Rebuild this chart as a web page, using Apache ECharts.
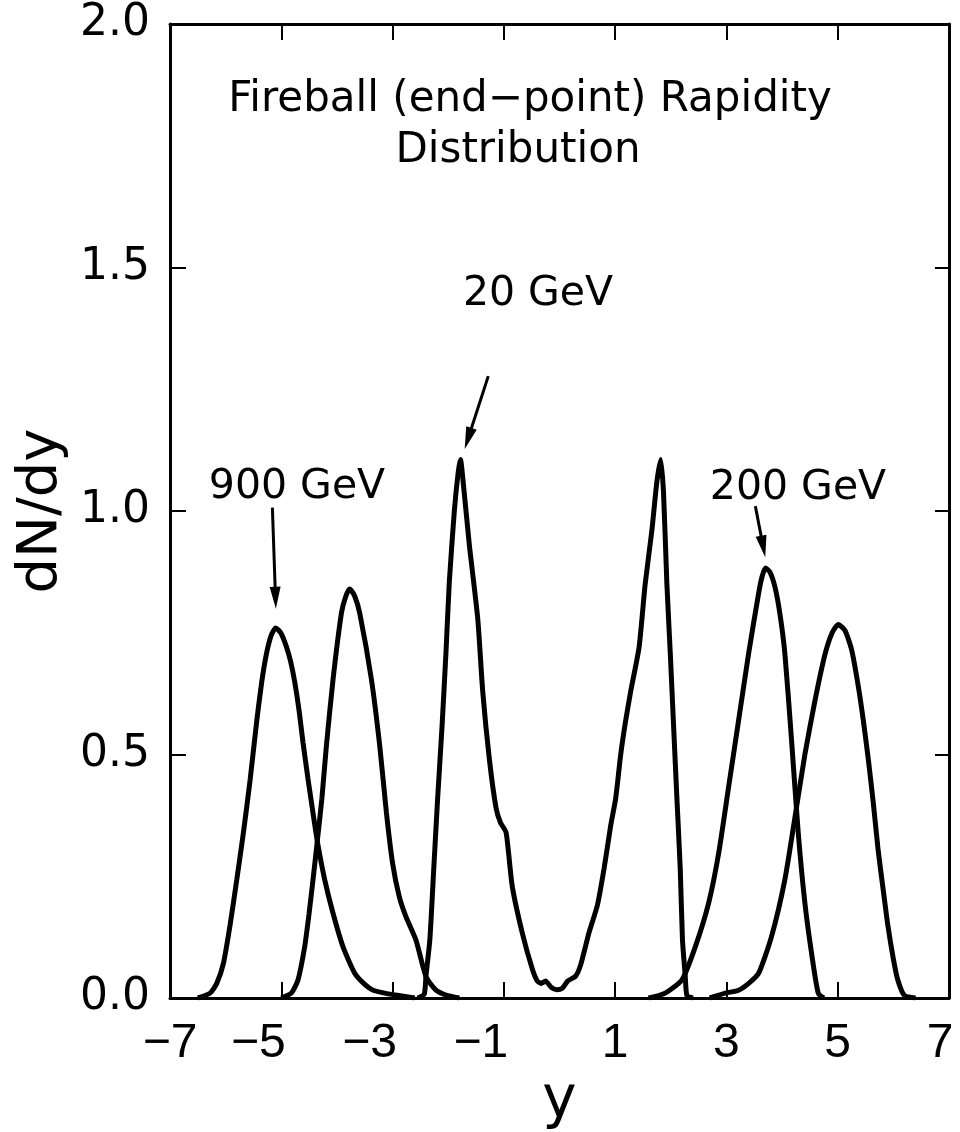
<!DOCTYPE html>
<html>
<head>
<meta charset="utf-8">
<script src="https://cdn.jsdelivr.net/npm/echarts@6/dist/echarts.min.js"></script>
<style>html,body{margin:0;padding:0;background:#fff}#c{width:960px;height:1132px}</style>
</head>
<body>
<div id="c"></div>
<script>
// ---- data (rapidity y, dN/dy) ----
const gev900Left = [[-6.5,0],[-6.28,0.01],[-6.16,0.03],[-6.04,0.071],[-5.92,0.15],[-5.80,0.243],[-5.68,0.34],[-5.56,0.448],[-5.44,0.57],[-5.35,0.65],[-5.27,0.705],[-5.18,0.745],[-5.10,0.76],[-5.01,0.75],[-4.91,0.722],[-4.83,0.69],[-4.76,0.65],[-4.68,0.59],[-4.61,0.525],[-4.52,0.45],[-4.43,0.38],[-4.35,0.32],[-4.22,0.243],[-4.07,0.174],[-3.89,0.105],[-3.68,0.051],[-3.50,0.028],[-3.35,0.016],[-3.10,0.009],[-2.94,0.006],[-2.6,0]];
const gev900Right = [[2.7,0],[2.98,0.01],[3.22,0.016],[3.40,0.03],[3.58,0.051],[3.81,0.126],[4.05,0.243],[4.23,0.37],[4.41,0.50],[4.59,0.61],[4.77,0.705],[4.90,0.75],[5.01,0.767],[5.13,0.755],[5.25,0.715],[5.37,0.64],[5.46,0.57],[5.55,0.49],[5.64,0.40],[5.73,0.30],[5.82,0.22],[5.90,0.15],[6.00,0.08],[6.08,0.037],[6.20,0.005],[6.4,0]];
const gev200Left = [[-5.0,0],[-4.82,0.01],[-4.70,0.037],[-4.58,0.105],[-4.50,0.174],[-4.43,0.243],[-4.35,0.325],[-4.27,0.41],[-4.19,0.517],[-4.07,0.654],[-3.92,0.79],[-3.84,0.825],[-3.77,0.84],[-3.68,0.825],[-3.59,0.79],[-3.38,0.654],[-3.23,0.517],[-3.11,0.38],[-3.0,0.277],[-2.88,0.208],[-2.76,0.167],[-2.58,0.119],[-2.40,0.044],[-2.22,0.016],[-2.04,0.006],[-1.8,0]];
const gev200Right = [[1.6,0],[1.90,0.01],[2.20,0.037],[2.44,0.105],[2.68,0.195],[2.86,0.297],[3.04,0.434],[3.22,0.571],[3.40,0.708],[3.58,0.832],[3.64,0.865],[3.70,0.883],[3.78,0.875],[3.87,0.845],[3.96,0.79],[4.05,0.708],[4.17,0.53],[4.29,0.34],[4.41,0.195],[4.53,0.092],[4.65,0.01],[4.75,0]];
const gev20 = [[-2.55,0],[-2.43,0.008],[-2.40,0.045],[-2.33,0.12],[-2.26,0.265],[-2.19,0.41],[-2.11,0.56],[-2.04,0.71],[-1.98,0.855],[-1.89,1.00],[-1.82,1.08],[-1.78,1.106],[-1.74,1.07],[-1.62,0.93],[-1.47,0.78],[-1.38,0.63],[-1.26,0.49],[-1.14,0.39],[-1.06,0.36],[-0.96,0.34],[-0.85,0.23],[-0.67,0.134],[-0.49,0.06],[-0.40,0.035],[-0.33,0.03],[-0.25,0.035],[-0.15,0.022],[-0.05,0.017],[0.05,0.02],[0.15,0.035],[0.29,0.045],[0.38,0.068],[0.53,0.134],[0.68,0.19],[0.80,0.265],[0.92,0.354],[1.01,0.41],[1.10,0.50],[1.19,0.57],[1.28,0.63],[1.43,0.72],[1.54,0.85],[1.66,0.96],[1.75,1.06],[1.82,1.106],[1.87,1.036],[1.93,0.85],[1.99,0.71],[2.05,0.56],[2.11,0.41],[2.17,0.265],[2.21,0.12],[2.26,0.045],[2.29,0.005],[2.4,0]];

// annotation arrows: [start, end] in data coordinates
const arrow900 = [[-5.16,1.007],[-5.104,0.822]];
const arrow20 = [[-1.28,1.277],[-1.643,1.149]];
const arrow200 = [[3.52,1.01],[3.66,0.927]];

const xRange = [-7, 7];
const yRange = [0, 2];
const titleLines = ['Fireball (end\u2212point) Rapidity', 'Distribution'];
const energyLabels = ['900 GeV', '20 GeV', '200 GeV'];
const xName = 'y';
const yName = 'dN/dy';

const chart = echarts.init(document.getElementById('c'), null, {renderer: 'canvas'});
const FONT = 'DejaVu Sans, sans-serif';
const FONT2 = 'Liberation Sans, Arial, sans-serif';
const axisLineStyle = {color: '#000', width: 3};
const tickStyle = {color: '#000', width: 2};

function arrowLine(a) {
  return [[{coord: a[0], symbol: 'none'}, {coord: a[1], symbol: 'path://M5,0L10,24L0,24Z', symbolSize: [11, 22]}]];
}
function curve(name, data, arrow) {
  const s = {
    name: name, type: 'line', data: data, showSymbol: false, symbol: 'none',
    smooth: 0.2, lineStyle: {color: '#000', width: 5}, silent: true,
    xAxisIndex: 0, yAxisIndex: 0, z: 3
  };
  if (arrow) {
    s.markLine = {
      silent: true, animation: false, symbol: ['none', 'none'],
      lineStyle: {color: '#000', width: 3, type: 'solid'},
      itemStyle: {color: '#000'},
      label: {show: false}, emphasis: {disabled: true},
      data: arrowLine(arrow)
    };
  }
  return s;
}
const lblRich = {fontSize: 48, fontFamily: FONT2, color: '#000'};

const option = {
  animation: false,
  backgroundColor: '#fff',
  grid: {left: 170, right: 11, top: 24, bottom: 134, outerBoundsMode: 'none', containLabel: false},
  xAxis: [{
    type: 'value', min: xRange[0], max: xRange[1], interval: 2, position: 'bottom',
    axisLine: {show: true, onZero: false, lineStyle: axisLineStyle},
    axisTick: {show: true, inside: true, length: 16, lineStyle: tickStyle},
    splitLine: {show: false},
    axisLabel: {
      margin: 22, color: '#000', fontSize: 48, fontFamily: FONT2,
      formatter: v => {
        if (v === xRange[0]) return '{a|\u2212' + Math.abs(v) + '}';
        if (v === xRange[1]) return '{e|' + v + '}';
        return v < 0 ? '{n|\u2212' + Math.abs(v) + '}' : '{p|' + v + '}';
      },
      rich: {
        a: Object.assign({}, lblRich),
        n: Object.assign({padding: [0, 46, 0, 0]}, lblRich),
        p: Object.assign({}, lblRich),
        e: Object.assign({padding: [0, 18, 0, 0]}, lblRich)
      }
    },
    name: xName, nameLocation: 'middle', nameGap: 56,
    nameTextStyle: {fontSize: 58, fontFamily: FONT, color: '#000'}
  }, {
    type: 'value', min: xRange[0], max: xRange[1], interval: 2, position: 'top',
    axisLine: {show: true, onZero: false, lineStyle: axisLineStyle},
    axisTick: {show: true, inside: true, length: 16, lineStyle: tickStyle},
    splitLine: {show: false}, axisLabel: {show: false}
  }],
  yAxis: [{
    type: 'value', min: yRange[0], max: yRange[1], interval: 0.5, position: 'left',
    axisLine: {show: true, onZero: false, lineStyle: axisLineStyle},
    axisTick: {show: true, inside: true, length: 16, lineStyle: tickStyle},
    splitLine: {show: false},
    axisLabel: {margin: 20, color: '#000', fontSize: 44, fontFamily: FONT, formatter: v => v.toFixed(1)},
    name: yName, nameLocation: 'middle', nameGap: 96, nameRotate: 90,
    nameTextStyle: {fontSize: 56, fontFamily: FONT, color: '#000'}
  }, {
    type: 'value', min: yRange[0], max: yRange[1], interval: 0.5, position: 'right',
    axisLine: {show: true, onZero: false, lineStyle: axisLineStyle},
    axisTick: {show: true, inside: true, length: 14, lineStyle: tickStyle},
    splitLine: {show: false}, axisLabel: {show: false}
  }],
  graphic: [
    {type: 'text', x: 530, y: 100, style: {text: titleLines[0], fontSize: 42, fontFamily: FONT, fill: '#000', align: 'center', verticalAlign: 'middle'}},
    {type: 'text', x: 518, y: 151, style: {text: titleLines[1], fontSize: 42, fontFamily: FONT, fill: '#000', align: 'center', verticalAlign: 'middle'}},
    {type: 'text', x: 297, y: 487, style: {text: energyLabels[0], fontSize: 41, fontFamily: FONT, fill: '#000', align: 'center', verticalAlign: 'middle'}},
    {type: 'text', x: 538, y: 294, style: {text: energyLabels[1], fontSize: 41, fontFamily: FONT, fill: '#000', align: 'center', verticalAlign: 'middle'}},
    {type: 'text', x: 798, y: 488, style: {text: energyLabels[2], fontSize: 41, fontFamily: FONT, fill: '#000', align: 'center', verticalAlign: 'middle'}}
  ],
  series: [
    curve('900 GeV', gev900Left, arrow900),
    curve('900 GeV', gev900Right, null),
    curve('200 GeV', gev200Left, null),
    curve('200 GeV', gev200Right, arrow200),
    curve('20 GeV', gev20, arrow20)
  ]
};
chart.setOption(option);
</script>
</body>
</html>
